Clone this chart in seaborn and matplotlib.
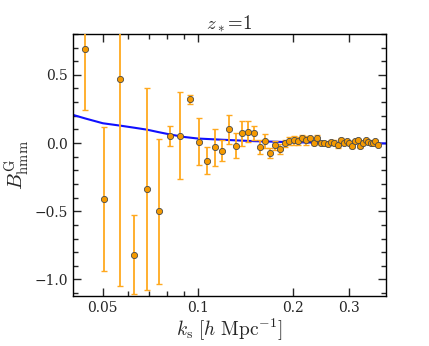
"""
Halo-matter-matter bispectrum B^G_hmm vs k_s at z_* = 1.
"""

import numpy as np
import pandas as pd
import matplotlib
matplotlib.use('Agg')
import matplotlib.pyplot as plt
from matplotlib.ticker import FixedLocator, FixedFormatter, NullFormatter, MultipleLocator
import seaborn as sns

k_data = [0.0440, 0.0503, 0.0565, 0.0628, 0.0691, 0.0754, 0.0817, 0.0880, 0.0942,
          0.1005, 0.1068, 0.1131, 0.1194, 0.1257, 0.1319, 0.1382, 0.1445, 0.1508,
          0.1571, 0.1634, 0.1696, 0.1759, 0.1822, 0.1885, 0.1948, 0.2011, 0.2073,
          0.2136, 0.2199, 0.2262, 0.2325, 0.2388, 0.2450, 0.2513, 0.2576, 0.2639,
          0.2702, 0.2765, 0.2827, 0.2890, 0.2953, 0.3016, 0.3079, 0.3142, 0.3204,
          0.3267, 0.3330, 0.3393, 0.3456, 0.3519, 0.3581, 0.3644, 0.3707]
b_data = [0.69, -0.41, 0.47, -0.82, -0.34, -0.50, 0.05, 0.054, 0.32,
          0.01, -0.128, -0.03, -0.055, 0.10, -0.02, 0.07, 0.083, 0.073,
          -0.03, 0.015, -0.072, -0.018, -0.044, -0.003, 0.015, 0.019, 0.012,
          0.037, 0.019, 0.034, -0.003, 0.037, 0.002, 0.002, -0.005, 0.010,
          0.002, -0.018, 0.019, 0.002, 0.012, 0.000, -0.025, 0.012, 0.019,
          -0.025, 0.002, 0.019, 0.010, 0.002, 0.002, 0.012, -0.012]
b_err = [0.445, 0.53, 1.52, 0.29, 0.74, 0.53, 0.075, 0.32, 0.035,
         0.17, 0.10, 0.135, 0.075, 0.105, 0.09, 0.095, 0.075, 0.05,
         0.05, 0.05, 0.035, 0.03, 0.035, 0.025, 0.03, 0.03, 0.03,
         0.025, 0.03, 0.015, 0.015, 0.02, 0.015, 0.015, 0.012, 0.015,
         0.02, 0.015, 0.015, 0.012, 0.012, 0.012, 0.012, 0.012, 0.012,
         0.012, 0.010, 0.010, 0.010, 0.010, 0.010, 0.010, 0.010]

# Model curve
k_model = [0.040, 0.044, 0.050, 0.057, 0.063, 0.069, 0.075, 0.082, 0.090,
           0.100, 0.120, 0.150, 0.200, 0.250, 0.300, 0.400]
b_model = [0.208, 0.180, 0.145, 0.127, 0.112, 0.098, 0.080, 0.062, 0.045,
           0.033, 0.024, 0.014, 0.006, 0.002, 0.000, -0.003]

xticks = [0.05, 0.1, 0.2, 0.3]
xtick_labels = ['0.05', '0.1', '0.2', '0.3']
xminor = [0.06, 0.07, 0.08, 0.09]


def main():
    sns.set_style('ticks')
    plt.rcParams['font.family'] = ['DejaVu Serif']
    plt.rcParams['mathtext.fontset'] = 'cm'
    plt.rcParams['xtick.direction'] = 'in'
    plt.rcParams['ytick.direction'] = 'in'

    df = pd.DataFrame({'k': k_data, 'B': b_data, 'err': b_err})
    model = pd.DataFrame({'k': k_model, 'B': b_model})

    fig = plt.figure(figsize=(4.29, 3.46), dpi=100)
    ax = fig.add_axes([0.170, 0.145, 0.730, 0.757])

    sns.lineplot(data=model, x='k', y='B', color='#1010ff', lw=1.5, ax=ax, zorder=2)
    ax.errorbar(df['k'], df['B'], yerr=df['err'], fmt='none', ecolor='#ffa91f',
                elinewidth=1.3, capsize=2, capthick=1.0, zorder=3)
    sns.scatterplot(data=df, x='k', y='B', color='#f59a00', edgecolor='#4a4a4a',
                    linewidth=0.6, s=20, ax=ax, zorder=4)

    ax.set_xscale('log')
    ax.set_xlim(0.0402, 0.394)
    ax.set_ylim(-1.12, 0.80)
    ax.xaxis.set_major_locator(FixedLocator(xticks))
    ax.xaxis.set_major_formatter(FixedFormatter(xtick_labels))
    ax.xaxis.set_minor_locator(FixedLocator(xminor))
    ax.xaxis.set_minor_formatter(NullFormatter())
    ax.yaxis.set_major_locator(MultipleLocator(0.5))
    ax.yaxis.set_minor_locator(MultipleLocator(0.1))

    ax.tick_params(which='both', top=True, right=True, labelsize=10, width=1.0)
    ax.tick_params(which='major', length=6)
    ax.tick_params(which='minor', length=3.5)
    for sp in ax.spines.values():
        sp.set_linewidth(1.0)
        sp.set_color('black')

    ax.set_xlabel(r'$k_{\rm s}\ [h\ {\rm Mpc}^{-1}]$', fontsize=14, labelpad=2)
    ax.set_ylabel(r'$B^{\rm G}_{\rm hmm}$', fontsize=15, labelpad=2)
    ax.set_title(r'$z_*\!=\!1$', fontsize=13.5, pad=3)

    fig.savefig('out.png', dpi=100)
    plt.close(fig)


if __name__ == '__main__':
    main()
